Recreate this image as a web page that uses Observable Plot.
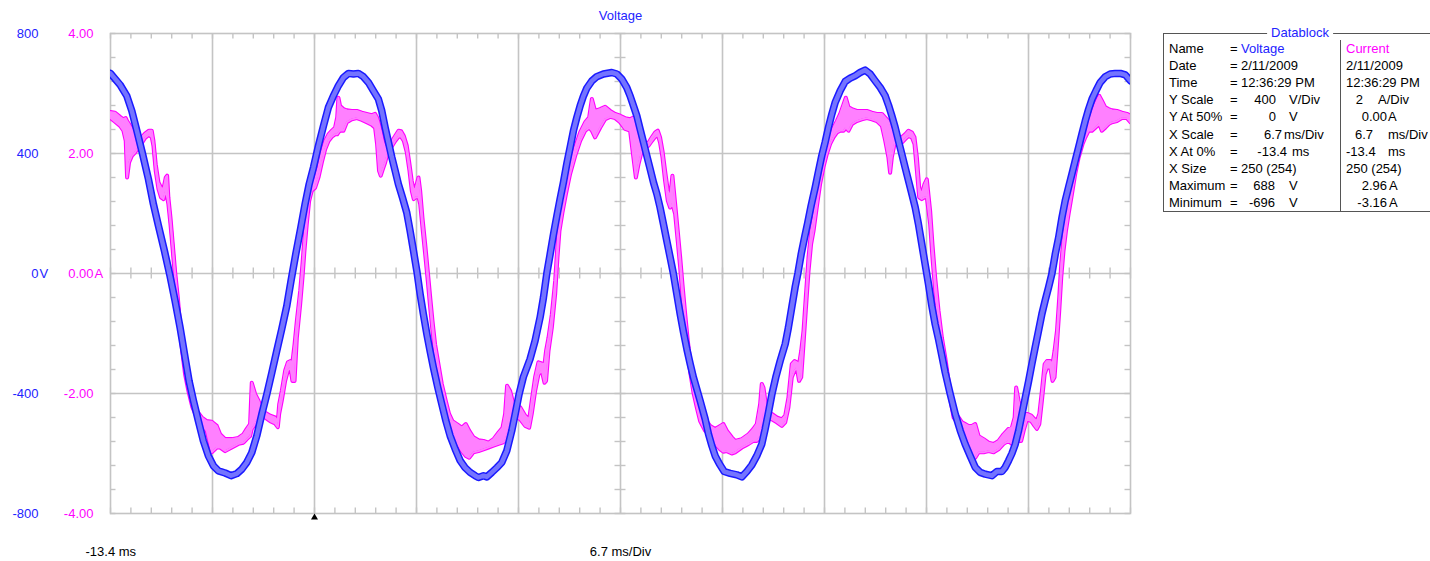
<!DOCTYPE html>
<html><head><meta charset="utf-8">
<script src="https://cdn.jsdelivr.net/npm/d3@7"></script>
<script src="https://cdn.jsdelivr.net/npm/@observablehq/plot@0.6"></script>
<style>
html,body{margin:0;padding:0;background:#fff;}
#wrap{position:relative;width:1430px;height:561px;overflow:hidden;font-family:"Liberation Sans",Arial,sans-serif;}
#chart{position:absolute;left:0;top:0;}
.dbbox{position:absolute;left:1163px;top:33px;width:300px;height:179px;border:1px solid #555;box-sizing:border-box;}
.dbsep{position:absolute;left:1340px;top:40px;width:1px;height:172px;background:#555;}
.dbtitle{position:absolute;left:1300px;top:25px;transform:translateX(-50%);background:#fff;padding:0 4px;color:#2323ff;font-size:13px;line-height:16px;}
.t{position:absolute;font-size:13px;line-height:16px;white-space:nowrap;color:#000;}
.end{transform:translateX(-100%);}
</style></head>
<body><div id="wrap"><div id="chart"></div></div>
<script>
// ---- scale settings (from the datablock) ----
const xStartMs = -13.4;
const msPerDiv = 6.7;
const voltsPerDiv = 400;
const ampsPerDiv = 2;
const triggerMs = 0;
const chartTitle = "Voltage";

// ---- axis tick labels ----
const voltTicks = [800, 400, 0, -400, -800];
const voltTickLabels = ["800", "400", "0", "-400", "-800"];
const currentTicks = [4, 2, 0, -2, -4];
const currentTickLabels = ["4.00", "2.00", "0.00", "-2.00", "-4.00"];

// ---- Voltage trace (ms, V) – centre of the persistence band ----
const voltage = [
[-13.4,667],[-12.77,629],[-12.33,592],[-12.0,542],[-11.67,476],[-11.3,400],[-10.91,315],[-10.58,231],[-10.25,159],[-9.86,76],
[-9.49,-8],[-9.16,-91],[-8.83,-180],[-8.5,-280],[-8.24,-358],[-7.95,-424],[-7.63,-491],[-7.3,-558],[-6.97,-608],[-6.64,-641],
[-6.31,-658],[-5.87,-665],[-5.48,-674],[-5.1,-667],[-4.77,-652],[-4.45,-630],[-4.12,-597],[-3.79,-541],[-3.46,-469],[-3.13,-402],
[-2.8,-330],[-2.48,-258],[-2.15,-185],[-1.82,-108],[-1.54,-24],[-1.23,65],[-0.9,153],[-0.62,231],[-0.35,298],[-0.07,353],
[0.26,426],[0.59,492],[0.91,553],[1.24,592],[1.57,626],[1.9,653],[2.23,667],[2.56,665],[2.88,667],[3.21,656],
[3.54,637],[3.87,609],[4.2,581],[4.42,542],[4.64,487],[4.86,437],[5.08,387],[5.3,342],[5.51,298],[5.78,253],
[6.06,203],[6.28,142],[6.5,76],[6.72,9],[6.94,-69],[7.15,-135],[7.38,-202],[7.59,-258],[7.81,-313],[8.1,-380],
[8.36,-435],[8.63,-491],[8.91,-541],[9.24,-585],[9.57,-624],[9.89,-647],[10.22,-663],[10.55,-674],[10.77,-680],[11.1,-674],
[11.32,-678],[11.65,-663],[11.98,-647],[12.3,-630],[12.63,-591],[12.96,-524],[13.18,-469],[13.44,-402],[13.72,-345],[14.16,-285],
[14.49,-224],[14.82,-146],[15.04,-80],[15.26,0],[15.48,65],[15.7,131],[15.92,192],[16.13,248],[16.35,303],[16.57,365],
[16.79,420],[17.01,476],[17.23,520],[17.45,559],[17.67,592],[17.89,618],[18.22,642],[18.54,656],[18.98,665],[19.53,670],
[19.86,665],[20.19,648],[20.51,620],[20.73,592],[20.95,559],[21.17,526],[21.39,481],[21.61,437],[21.83,392],[22.05,348],
[22.27,303],[22.49,265],[22.7,220],[22.92,165],[23.14,109],[23.36,54],[23.58,-2],[23.8,-69],[24.02,-135],[24.24,-196],
[24.46,-252],[24.68,-302],[24.89,-346],[25.11,-385],[25.33,-424],[25.66,-485],[25.88,-535],[26.1,-574],[26.32,-608],[26.6,-635],
[26.91,-660],[27.3,-666],[27.74,-671],[28.07,-678],[28.4,-660],[28.73,-638],[29.05,-608],[29.38,-569],[29.6,-519],[29.82,-463],
[30.04,-404],[30.3,-346],[30.59,-291],[30.92,-235],[31.13,-180],[31.35,-113],[31.57,-46],[31.75,0],[31.97,65],[32.19,120],
[32.4,170],[32.62,226],[32.89,287],[33.11,342],[33.32,392],[33.54,437],[33.76,487],[33.98,531],[34.2,570],[34.53,609],
[34.86,640],[35.19,651],[35.51,659],[35.84,670],[36.17,678],[36.5,665],[36.83,642],[37.16,620],[37.49,592],[37.7,562],
[37.92,526],[38.14,487],[38.36,442],[38.58,398],[38.8,353],[39.02,309],[39.24,265],[39.46,220],[39.67,165],[39.89,98],
[40.11,31],[40.33,-35],[40.55,-108],[40.77,-169],[40.99,-219],[41.21,-274],[41.43,-330],[41.76,-402],[42.09,-469],[42.42,-524],
[42.74,-569],[43.07,-608],[43.4,-646],[43.73,-663],[44.06,-669],[44.5,-674],[44.82,-660],[45.15,-660],[45.37,-646],[45.59,-624],
[45.81,-600],[46.03,-569],[46.25,-524],[46.47,-469],[46.69,-413],[46.91,-358],[47.12,-302],[47.34,-246],[47.56,-191],[47.78,-135],
[48.0,-89],[48.22,-46],[48.44,0],[48.66,65],[48.88,120],[49.1,187],[49.31,242],[49.53,287],[49.75,331],[49.97,376],
[50.19,420],[50.41,465],[50.63,509],[50.85,548],[51.07,581],[51.33,609],[51.61,637],[51.94,656],[52.27,665],[52.6,667],
[52.93,667],[53.26,662],[53.6,642]
];

// ---- Current trace (ms, upper A, lower A) – persistence envelope ----
const current = [
[-13.4,2.69,2.59],[-13.1,2.68,2.53],[-12.77,2.61,2.46],[-12.55,2.57,2.38],[-12.4,2.59,2.21],[-12.31,2.54,1.6],[-12.18,2.49,1.85],[-12.0,2.41,1.96],
[-11.78,2.27,2.02],[-11.57,2.18,2.1],[-11.35,2.27,2.17],[-11.13,2.33,2.26],[-10.87,2.38,2.31],[-10.69,2.38,2.27],[-10.58,2.21,2.13],[-10.43,1.82,1.71],
[-10.25,1.52,1.41],[-10.08,1.43,1.27],[-9.92,1.41,1.24],[-9.77,1.6,1.38],[-9.68,1.63,1.27],[-9.6,1.27,1.16],[-9.46,0.93,0.82],[-9.31,0.49,0.38],
[-9.16,0.04,-0.07],[-8.98,-0.4,-0.51],[-8.83,-0.84,-0.96],[-8.67,-1.23,-1.34],[-8.5,-1.57,-1.68],[-8.28,-1.84,-1.96],[-8.02,-2.12,-2.23],[-7.73,-2.29,-2.4],
[-7.4,-2.4,-2.54],[-7.08,-2.46,-2.62],[-6.75,-2.47,-2.98],[-6.42,-2.54,-2.9],[-6.2,-2.68,-2.9],[-5.87,-2.76,-2.96],[-5.43,-2.76,-2.9],[-5.0,-2.74,-2.84],
[-4.67,-2.68,-2.82],[-4.45,-2.59,-2.76],[-4.23,-2.51,-2.71],[-4.12,-1.82,-2.59],[-3.9,-2.01,-2.51],[-3.68,-2.12,-2.4],[-3.46,-2.26,-2.34],[-3.24,-2.32,-2.4],
[-2.91,-2.37,-2.46],[-2.59,-2.4,-2.5],[-2.41,-2.46,-2.56],[-2.32,-2.18,-2.34],[-2.15,-1.96,-2.12],[-1.93,-1.62,-1.79],[-1.75,-1.48,-1.62],[-1.58,-1.46,-1.57],
[-1.45,-1.48,-1.79],[-1.31,-1.18,-1.79],[-1.16,-0.79,-1.07],[-0.94,-0.29,-0.51],[-0.79,0.16,-0.07],[-0.66,0.6,0.38],[-0.51,1.04,0.82],[-0.35,1.43,1.21],
[-0.18,1.54,1.38],[0.04,1.57,1.43],[0.26,1.77,1.6],[0.48,2.02,1.85],[0.7,2.21,2.07],[0.92,2.32,2.21],[1.14,2.38,2.28],[1.35,2.43,2.32],
[1.49,2.6,2.32],[1.57,2.93,2.35],[1.68,2.79,2.38],[1.9,2.74,2.38],[2.12,2.72,2.52],[2.45,2.71,2.57],[2.78,2.71,2.59],[3.11,2.68,2.56],
[3.43,2.66,2.52],[3.76,2.64,2.48],[3.98,2.66,2.43],[4.11,2.6,2.16],[4.24,2.49,1.71],[4.35,2.38,1.63],[4.49,2.21,1.74],[4.64,2.1,1.85],
[4.81,2.13,2.02],[5.03,2.18,2.1],[5.3,2.29,2.21],[5.52,2.38,2.28],[5.69,2.37,2.28],[5.87,2.29,2.21],[6.06,2.13,2.02],[6.24,1.82,1.71],
[6.39,1.54,1.38],[6.52,1.38,1.24],[6.65,1.43,1.27],[6.83,1.6,1.27],[6.94,1.38,1.16],[7.09,0.93,0.77],[7.27,0.49,0.32],[7.44,0.04,-0.12],
[7.6,-0.4,-0.57],[7.75,-0.79,-0.96],[7.92,-1.18,-1.34],[8.14,-1.51,-1.68],[8.36,-1.84,-2.01],[8.62,-2.12,-2.29],[8.84,-2.34,-2.51],[9.06,-2.46,-2.65],
[9.35,-2.51,-2.82],[9.68,-2.57,-2.96],[9.94,-2.51,-3.04],[10.16,-2.62,-3.07],[10.44,-2.73,-2.98],[10.77,-2.78,-2.96],[11.1,-2.79,-2.93],[11.43,-2.82,-2.9],
[11.76,-2.76,-2.87],[12.09,-2.65,-2.84],[12.35,-2.57,-2.82],[12.52,-2.34,-2.79],[12.65,-1.87,-2.68],[12.85,-1.96,-2.51],[13.07,-2.18,-2.4],[13.29,-2.23,-2.4],
[13.51,-2.23,-2.43],[13.84,-2.37,-2.54],[14.1,-2.43,-2.57],[14.27,-2.12,-2.34],[14.49,-1.73,-1.96],[14.71,-1.48,-1.68],[14.93,-1.5,-1.62],[15.11,-1.51,-1.82],
[15.21,-1.29,-1.79],[15.37,-1.07,-1.29],[15.59,-0.68,-0.9],[15.81,-0.12,-0.34],[15.96,0.49,0.27],[16.09,0.93,0.71],[16.29,1.21,1.02],[16.51,1.49,1.32],
[16.79,1.79,1.66],[17.12,2.1,1.96],[17.45,2.35,2.21],[17.78,2.52,2.38],[18.04,2.6,2.43],[18.22,2.91,2.38],[18.43,2.71,2.27],[18.76,2.74,2.43],
[19.09,2.78,2.57],[19.42,2.71,2.61],[19.75,2.66,2.59],[20.08,2.63,2.52],[20.4,2.59,2.41],[20.73,2.57,2.38],[20.95,2.6,1.93],[21.11,2.52,1.6],
[21.28,2.38,1.82],[21.5,2.21,2.04],[21.72,2.16,2.1],[21.94,2.18,2.13],[22.16,2.27,2.21],[22.38,2.35,2.28],[22.55,2.38,2.31],[22.7,2.27,2.18],
[22.86,2.04,1.93],[23.03,1.71,1.54],[23.21,1.38,1.21],[23.36,1.27,1.1],[23.51,1.63,1.16],[23.69,1.16,0.99],[23.86,0.71,0.54],[24.02,0.27,0.1],
[24.17,-0.18,-0.4],[24.35,-0.68,-0.9],[24.52,-1.12,-1.34],[24.7,-1.51,-1.68],[24.89,-1.84,-1.98],[25.11,-2.07,-2.23],[25.33,-2.29,-2.46],[25.66,-2.43,-2.62],
[25.99,-2.54,-2.71],[26.32,-2.59,-2.84],[26.65,-2.54,-2.93],[26.86,-2.51,-2.97],[27.08,-2.62,-2.96],[27.41,-2.73,-3.0],[27.63,-2.79,-2.98],[28.07,-2.76,-2.9],
[28.51,-2.68,-2.84],[28.83,-2.59,-2.79],[29.05,-2.51,-2.79],[29.27,-2.18,-2.73],[29.38,-1.84,-2.62],[29.49,-1.9,-2.34],[29.71,-2.29,-2.4],[30.04,-2.34,-2.43],
[30.37,-2.4,-2.48],[30.7,-2.43,-2.54],[30.92,-2.37,-2.48],[31.13,-2.07,-2.23],[31.35,-1.51,-1.73],[31.53,-1.46,-1.62],[31.68,-1.48,-1.57],[31.83,-1.51,-1.79],
[31.97,-1.29,-1.73],[32.12,-0.96,-1.18],[32.27,-0.4,-0.62],[32.45,0.27,0.04],[32.62,0.71,0.49],[32.78,0.93,0.71],[32.99,1.27,1.1],[33.21,1.66,1.49],
[33.43,1.88,1.77],[33.65,2.1,1.99],[33.87,2.27,2.16],[34.09,2.43,2.27],[34.31,2.54,2.35],[34.53,2.66,2.38],[34.75,2.82,2.38],[34.9,2.93,2.43],
[35.08,2.77,2.38],[35.3,2.74,2.49],[35.62,2.71,2.54],[35.95,2.71,2.57],[36.28,2.71,2.59],[36.61,2.68,2.57],[36.94,2.66,2.54],[37.27,2.66,2.46],
[37.49,2.6,2.21],[37.7,2.54,1.93],[37.81,2.49,1.68],[37.92,2.38,1.93],[38.1,2.27,2.16],[38.36,2.21,2.16],[38.58,2.27,2.18],[38.8,2.32,2.24],
[39.02,2.38,2.29],[39.24,2.35,2.27],[39.41,2.27,2.16],[39.57,1.93,1.71],[39.72,1.43,1.27],[39.89,1.32,1.24],[40.07,1.49,1.27],[40.22,1.57,1.27],
[40.44,1.04,0.82],[40.59,0.49,0.27],[40.77,-0.07,-0.29],[40.99,-0.62,-0.84],[41.21,-1.07,-1.29],[41.43,-1.4,-1.57],[41.65,-1.79,-1.93],[41.98,-2.29,-2.4],
[42.31,-2.4,-2.51],[42.53,-2.48,-2.62],[42.74,-2.51,-2.71],[42.96,-2.54,-2.9],[43.18,-2.54,-3.07],[43.4,-2.51,-3.07],[43.62,-2.71,-2.98],[43.95,-2.76,-2.98],
[44.28,-2.82,-2.96],[44.61,-2.84,-2.98],[44.93,-2.79,-2.93],[45.26,-2.68,-2.84],[45.59,-2.59,-2.79],[45.81,-2.57,-2.84],[45.99,-2.4,-2.79],[46.09,-1.9,-2.73],
[46.25,-2.12,-2.79],[46.42,-2.29,-2.79],[46.58,-2.34,-2.62],[46.8,-2.34,-2.43],[47.08,-2.37,-2.46],[47.3,-2.43,-2.54],[47.45,-2.46,-2.59],[47.61,-2.34,-2.51],
[47.78,-1.96,-2.12],[47.96,-1.51,-1.68],[48.11,-1.46,-1.57],[48.33,-1.46,-1.57],[48.48,-1.51,-1.79],[48.61,-1.29,-1.73],[48.77,-0.96,-1.18],[48.92,-0.4,-0.62],
[49.05,0.16,-0.07],[49.2,0.6,0.38],[49.36,0.93,0.71],[49.53,1.16,0.99],[49.75,1.49,1.32],[49.97,1.82,1.66],[50.19,2.04,1.93],[50.45,2.27,2.16],
[50.63,2.38,2.27],[50.85,2.49,2.38],[51.07,2.66,2.38],[51.29,2.82,2.43],[51.55,2.96,2.49],[51.72,2.88,2.38],[51.94,2.77,2.43],[52.16,2.74,2.49],
[52.38,2.72,2.52],[52.71,2.71,2.54],[53.04,2.68,2.59],[53.37,2.66,2.59],[53.6,2.63,2.52]
];

// ---- Datablock contents ----
const dbLabels = ["Name","Date","Time","Y Scale","Y At 50%","X Scale","X At 0%","X Size","Maximum","Minimum"];
const dbVoltValues = ["Voltage","2/11/2009","12:36:29 PM","400","0","6.7","-13.4","250 (254)","688","-696"];
const dbVoltUnits = ["","","","V/Div","V","ms/Div","ms","","V","V"];
const dbCurValues = ["Current","2/11/2009","12:36:29 PM","2","0.00","6.7","-13.4","250 (254)","2.96","-3.16"];
const dbCurUnits = ["","","","A/Div","A","ms/Div","ms","","A","A"];

// ================= drawing =================
const BLUE_TXT = "#2323ff", MAG = "#ff00ff";
const nDivX = 10;
const xEndMs = +(xStartMs + nDivX * msPerDiv).toFixed(2);
const vMax = 2 * voltsPerDiv;
const vPerA = voltsPerDiv / ampsPerDiv;
const xCenter = +(xStartMs + 5 * msPerDiv).toFixed(2);
const xDivs = d3.range(1, nDivX).map(i => +(xStartMs + i * msPerDiv).toFixed(3));
const yDivs = [-voltsPerDiv, 0, voltsPerDiv];
const xMinor = d3.range(0, nDivX * 5 + 1).map(i => xStartMs + i * msPerDiv / 5);
const yMinor = d3.range(0, 21).map(i => -vMax + i * voltsPerDiv / 5);
const plotW = 1430 - 110 - 300, plotH = 561 - 33 - 48;
const pxToMs = (nDivX * msPerDiv) / plotW;
const pxToV = (2 * vMax) / plotH;
const tickPx = 5.5;

const curData = current.map(([t, hi, lo]) => ({t, hi: hi * vPerA, lo: lo * vPerA}));
const volData = voltage.map(([t, v]) => ({t, v}));
const GRID = "#c4c4c4";

const chart = Plot.plot({
  width: 1430, height: 561,
  marginTop: 33, marginBottom: 48, marginLeft: 110, marginRight: 300,
  x: {domain: [xStartMs, xEndMs], axis: null},
  y: {domain: [-vMax, vMax], axis: null},
  style: {fontFamily: '"Liberation Sans", Arial, sans-serif', background: "transparent", overflow: "visible"},
  marks: [
    // grid
    Plot.ruleX(xDivs, {x: d => d, stroke: GRID, strokeWidth: 1.6, strokeOpacity: 1}),
    Plot.ruleY(yDivs, {y: d => d, stroke: GRID, strokeWidth: 1.6, strokeOpacity: 1}),
    // minor ticks: top, bottom, centre row
    Plot.ruleX(xMinor, {x: d => d, y1: vMax, y2: vMax - tickPx * pxToV, stroke: GRID, strokeWidth: 1.4}),
    Plot.ruleX(xMinor, {x: d => d, y1: -vMax, y2: -vMax + tickPx * pxToV, stroke: GRID, strokeWidth: 1.4}),
    Plot.ruleX(xMinor, {x: d => d, y1: -tickPx * pxToV, y2: tickPx * pxToV, stroke: GRID, strokeWidth: 1.4}),
    // minor ticks: left, right, centre column
    Plot.ruleY(yMinor, {y: d => d, x1: xStartMs, x2: xStartMs + tickPx * pxToMs, stroke: GRID, strokeWidth: 1.4}),
    Plot.ruleY(yMinor, {y: d => d, x1: xEndMs - tickPx * pxToMs, x2: xEndMs, stroke: GRID, strokeWidth: 1.4}),
    Plot.ruleY(yMinor, {y: d => d, x1: xCenter - tickPx * pxToMs, x2: xCenter + tickPx * pxToMs, stroke: GRID, strokeWidth: 1.4}),
    Plot.frame({stroke: GRID, strokeWidth: 1.6}),
    // current envelope
    Plot.line(curData, {x: "t", y: "hi", stroke: MAG, strokeWidth: 4, strokeLinejoin: "round", clip: true}),
    Plot.line(curData, {x: "t", y: "lo", stroke: MAG, strokeWidth: 4, strokeLinejoin: "round", clip: true}),
    Plot.areaY(curData, {x: "t", y1: "lo", y2: "hi", fill: "#ff80ff", fillOpacity: 1, clip: true}),
    Plot.line(curData, {x: "t", y: "hi", stroke: "#ff80ff", strokeWidth: 1.8, strokeLinejoin: "round", clip: true}),
    Plot.line(curData, {x: "t", y: "lo", stroke: "#ff80ff", strokeWidth: 1.8, strokeLinejoin: "round", clip: true}),
    // voltage band
    Plot.line(volData, {x: "t", y: "v", stroke: "#1a1aff", strokeWidth: 7.5, strokeLinejoin: "round", clip: true}),
    Plot.line(volData, {x: "t", y: "v", stroke: "#7474ff", strokeWidth: 4.5, strokeLinejoin: "round", clip: true}),
    // trigger marker
    Plot.dot([triggerMs], {x: d => d, y: -vMax, symbol: "triangle", r: 2.6, fill: "black", stroke: "none", dy: 4}),
    // title
    Plot.text([chartTitle], {text: d => d, frameAnchor: "top", lineAnchor: "middle", dy: -18, fill: BLUE_TXT, fontSize: 13}),
    // left axis labels
    Plot.text(voltTicks, {y: d => d, text: (d, i) => voltTickLabels[i], frameAnchor: "left", lineAnchor: "middle", dx: -72, textAnchor: "end", fill: BLUE_TXT, fontSize: 13}),
    Plot.text([0], {y: d => d, text: () => "V", frameAnchor: "left", lineAnchor: "middle", dx: -71, textAnchor: "start", fill: BLUE_TXT, fontSize: 13}),
    Plot.text(currentTicks, {y: d => d * vPerA, text: (d, i) => currentTickLabels[i], frameAnchor: "left", lineAnchor: "middle", dx: -17, textAnchor: "end", fill: MAG, fontSize: 13}),
    Plot.text([0], {y: d => d, text: () => "A", frameAnchor: "left", lineAnchor: "middle", dx: -16, textAnchor: "start", fill: MAG, fontSize: 13}),
    // bottom labels
    Plot.text([`${xStartMs} ms`], {text: d => d, frameAnchor: "bottom-left", lineAnchor: "middle", dx: -25, dy: 38, textAnchor: "start", fill: "black", fontSize: 13}),
    Plot.text([`${msPerDiv} ms/Div`], {text: d => d, frameAnchor: "bottom", lineAnchor: "middle", dy: 38, fill: "black", fontSize: 13})
  ]
});
document.getElementById("chart").appendChild(chart);

// ---- Datablock (HTML overlay) ----
const wrap = document.getElementById("wrap");
function addEl(cls, text, left, top, color) {
  const el = document.createElement("div");
  el.className = cls;
  el.textContent = text;
  el.style.left = left + "px";
  el.style.top = top + "px";
  if (color) el.style.color = color;
  wrap.appendChild(el);
  return el;
}
const box = document.createElement("div"); box.className = "dbbox"; wrap.appendChild(box);
const sep = document.createElement("div"); sep.className = "dbsep"; wrap.appendChild(sep);
const ttl = document.createElement("div"); ttl.className = "dbtitle"; ttl.textContent = "Datablock"; wrap.appendChild(ttl);

const rowTop0 = 40.5, rowStep = 17.2;
const labelX = 1169, eqX = 1230, voltTextX = 1241, curTextX = 1346;
const voltValueEnd = [0, 0, 0, 1276, 1276, 1282, 1287, 0, 1275, 1275];
const voltUnitX = [0, 0, 0, 1289, 1289, 1284, 1292, 0, 1289, 1289];
const curValueEnd = [0, 0, 0, 1363, 1387, 1373, 0, 0, 1387, 1387];
const curUnitX = [0, 0, 0, 1378, 1388, 1388, 1388, 0, 1389, 1389];

dbLabels.forEach((lab, i) => {
  const top = rowTop0 + i * rowStep;
  addEl("t", lab, labelX, top);
  addEl("t", "=", eqX, top);
  const vColor = i === 0 ? BLUE_TXT : null;
  if (voltValueEnd[i]) addEl("t end", dbVoltValues[i], voltValueEnd[i], top, vColor);
  else addEl("t", dbVoltValues[i], voltTextX, top, vColor);
  if (dbVoltUnits[i]) addEl("t", dbVoltUnits[i], voltUnitX[i], top);
  const cColor = i === 0 ? MAG : null;
  if (curValueEnd[i]) addEl("t end", dbCurValues[i], curValueEnd[i], top, cColor);
  else addEl("t", dbCurValues[i], curTextX, top, cColor);
  if (dbCurUnits[i]) addEl("t", dbCurUnits[i], curUnitX[i], top);
});
</script>
</body></html>
